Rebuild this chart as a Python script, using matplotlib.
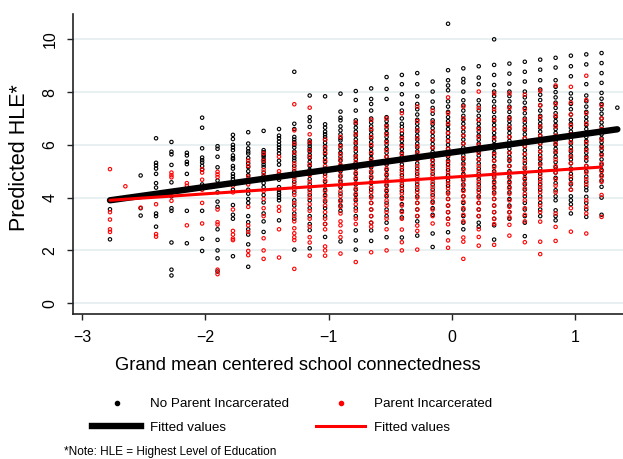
import matplotlib
matplotlib.use("Agg")
import matplotlib.pyplot as plt
from matplotlib.lines import Line2D

plt.rcParams['font.family'] = ['Liberation Sans', 'DejaVu Sans']

# school connectedness values (one column of points each)
col_x = [-2.774, -2.649, -2.525, -2.400, -2.275, -2.150, -2.026, -1.901,
         -1.776, -1.652, -1.527, -1.402, -1.278, -1.153, -1.028, -0.903,
         -0.779, -0.654, -0.529, -0.405, -0.280, -0.155, -0.030, 0.094,
         0.219, 0.344, 0.468, 0.593, 0.718, 0.843, 0.967, 1.092, 1.216, 1.344]

# predicted HLE, no parent incarcerated (one list per column)
no_inc_y = [
    [3.90, 3.56, 2.42],
    [],
    [4.84, 3.60, 3.32],
    [6.25, 5.32, 5.22, 5.10, 4.90, 4.55, 4.38, 3.40, 3.30, 2.90],
    [6.11, 5.74, 5.64, 5.24, 4.58, 4.05, 3.60, 3.50, 2.30, 1.27, 1.05],
    [5.70, 5.60, 5.36, 5.27, 4.90, 3.50, 2.27],
    [7.03, 6.65, 5.87, 5.52, 5.42, 5.33, 5.20, 5.06, 4.50, 3.50, 2.44, 1.98],
    [5.95, 5.85, 5.55, 5.15, 4.65, 4.20, 3.85, 3.65, 2.80, 2.40, 2.00, 1.70, 1.20],
    [6.38, 6.22, 6.00, 5.90, 5.80, 5.60, 5.50, 5.45, 5.20, 5.10, 4.90, 4.80, 4.70,
     4.30, 3.72, 3.35, 3.20, 1.78],
    [6.48, 6.05, 5.87, 5.75, 5.67, 5.50, 5.30, 5.16, 5.00, 4.85, 4.30, 4.15, 3.95,
     3.80, 3.30, 3.07, 2.80, 2.60, 2.23, 1.38],
    [6.53, 5.80, 5.72, 5.62, 5.55, 5.45, 5.35, 5.25, 5.16, 4.95, 4.80, 4.55, 4.40,
     4.10, 3.82, 3.40, 3.10, 2.70],
    [6.60, 6.35, 6.25, 6.12, 6.00, 5.90, 5.80, 5.67, 5.40, 5.25, 4.68, 4.40, 4.30,
     4.20, 4.10, 4.00, 3.90, 3.14],
    [8.77, 6.80, 6.60, 6.30, 6.20, 6.10, 6.00, 5.90, 5.75, 5.60, 5.50, 5.40, 5.20,
     5.00, 4.80, 4.60, 4.40, 4.20, 3.90, 3.70, 3.40, 3.20, 2.03],
    [7.87, 7.05, 6.90, 6.68, 6.17, 6.05, 5.95, 5.85, 5.75, 5.62, 5.50, 5.35, 5.20,
     5.05, 4.90, 4.70, 4.50, 4.30, 4.10, 3.90, 3.60, 3.30, 3.00, 2.77, 2.08],
    [7.84, 6.78, 6.65, 6.50, 6.40, 6.30, 6.20, 6.08, 5.95, 5.80, 5.65, 5.50, 5.35,
     5.10, 4.90, 4.60, 4.30, 4.10, 3.85, 3.60, 3.30, 3.00, 2.51],
    [7.94, 7.26, 7.03, 6.93, 6.70, 6.55, 6.40, 6.25, 6.17, 6.00, 5.85, 5.70, 5.55,
     5.40, 5.20, 5.00, 4.80, 4.60, 4.40, 4.15, 3.90, 3.70, 3.50, 2.34],
    [8.04, 7.70, 7.30, 6.93, 6.80, 6.65, 6.50, 6.35, 6.20, 6.05, 5.90, 5.75, 5.60,
     5.45, 5.30, 5.10, 4.90, 4.70, 4.50, 4.30, 4.10, 3.90, 3.60, 3.30, 2.76, 2.38, 2.03],
    [8.14, 7.74, 7.55, 7.30, 7.00, 6.85, 6.70, 6.55, 6.40, 6.25, 6.10, 5.95, 5.80,
     5.65, 5.50, 5.35, 5.15, 4.95, 4.75, 4.55, 4.30, 4.05, 3.80, 3.55, 3.30, 3.05,
     2.76, 2.36],
    [8.57, 8.12, 7.74, 7.05, 6.90, 6.75, 6.60, 6.45, 6.30, 6.15, 6.00, 5.85, 5.70,
     5.55, 5.40, 5.25, 5.05, 4.85, 4.65, 4.45, 4.25, 4.05, 3.80, 3.55, 3.30, 3.05, 2.50],
    [8.65, 8.30, 7.92, 7.56, 7.30, 7.00, 6.80, 6.68, 6.43, 6.30, 6.15, 6.00, 5.85,
     5.70, 5.55, 5.40, 5.25, 5.05, 4.85, 4.65, 4.45, 4.25, 4.00, 3.75, 3.50, 3.25, 2.49],
    [8.72, 8.30, 7.84, 7.55, 7.35, 7.15, 6.95, 6.80, 6.65, 6.50, 6.35, 6.20, 6.05,
     5.90, 5.75, 5.60, 5.45, 5.30, 5.10, 4.90, 4.70, 4.50, 4.30, 4.05, 3.80, 3.55,
     3.30, 3.10, 2.56],
    [8.40, 8.02, 7.64, 7.40, 7.18, 6.93, 6.78, 6.63, 6.48, 6.33, 6.18, 6.03, 5.88,
     5.73, 5.58, 5.43, 5.28, 5.10, 4.90, 4.70, 4.50, 4.30, 4.10, 3.85, 3.60, 3.35,
     2.64, 2.13],
    [10.59, 8.83, 8.45, 8.25, 8.07, 7.65, 7.45, 7.25, 7.05, 6.90, 6.75, 6.60, 6.45,
     6.30, 6.15, 6.00, 5.85, 5.70, 5.55, 5.40, 5.25, 5.05, 4.85, 4.65, 4.45, 4.20,
     3.95, 3.70, 3.45, 3.20, 2.69],
    [8.90, 8.50, 8.37, 8.02, 7.69, 7.50, 7.30, 7.10, 6.95, 6.80, 6.65, 6.50, 6.35,
     6.20, 6.05, 5.90, 5.75, 5.60, 5.45, 5.30, 5.10, 4.90, 4.70, 4.50, 4.30, 4.05,
     3.80, 3.55, 3.30, 3.05, 2.80],
    [8.98, 8.55, 8.30, 7.69, 7.50, 7.30, 7.10, 6.95, 6.80, 6.65, 6.50, 6.35, 6.20,
     6.05, 5.90, 5.75, 5.60, 5.45, 5.30, 5.10, 4.90, 4.70, 4.50, 4.30, 4.05, 3.80,
     3.55, 3.30, 3.05, 2.90],
    [10.00, 9.03, 8.65, 8.27, 8.02, 7.85, 7.65, 7.45, 7.25, 7.05, 6.90, 6.75, 6.60,
     6.45, 6.30, 6.15, 6.00, 5.85, 5.70, 5.55, 5.40, 5.20, 5.00, 4.80, 4.60, 4.40,
     4.20, 3.95, 3.70, 3.45, 3.20, 2.95, 2.41],
    [9.08, 8.70, 8.32, 8.02, 7.85, 7.65, 7.45, 7.25, 7.05, 6.90, 6.75, 6.60, 6.45,
     6.30, 6.15, 6.00, 5.85, 5.70, 5.55, 5.40, 5.20, 5.00, 4.80, 4.60, 4.40, 4.20,
     3.95, 3.70, 3.45, 3.20],
    [9.15, 8.77, 8.40, 8.02, 7.80, 7.60, 7.40, 7.20, 7.00, 6.85, 6.70, 6.55, 6.40,
     6.25, 6.10, 5.95, 5.80, 5.65, 5.50, 5.30, 5.10, 4.90, 4.70, 4.50, 4.30, 4.05,
     3.80, 3.55, 3.30, 3.05, 2.54],
    [9.23, 8.85, 8.45, 8.10, 7.90, 7.70, 7.50, 7.30, 7.10, 6.95, 6.80, 6.65, 6.50,
     6.35, 6.20, 6.05, 5.90, 5.75, 5.60, 5.45, 5.30, 5.10, 4.90, 4.70, 4.50, 4.30,
     4.05, 3.80, 3.55, 3.30],
    [9.30, 8.93, 8.45, 8.20, 8.00, 7.80, 7.60, 7.40, 7.20, 7.05, 6.90, 6.75, 6.60,
     6.45, 6.30, 6.15, 6.00, 5.85, 5.70, 5.55, 5.35, 5.15, 4.95, 4.75, 4.55, 4.28,
     4.05, 3.90, 3.52, 3.30, 3.14],
    [9.38, 8.98, 8.60, 7.95, 7.75, 7.55, 7.35, 7.15, 6.95, 6.80, 6.65, 6.50, 6.35,
     6.20, 6.05, 5.90, 5.75, 5.60, 5.45, 5.30, 5.10, 4.90, 4.70, 4.50, 4.30, 4.05,
     3.90, 3.75, 3.40],
    [9.43, 9.05, 8.30, 7.87, 7.65, 7.45, 7.25, 7.05, 6.90, 6.75, 6.60, 6.45, 6.30,
     6.15, 6.00, 5.85, 5.70, 5.55, 5.40, 5.20, 5.00, 4.80, 4.60, 4.40, 4.28, 4.03,
     3.80, 3.55, 3.27],
    [9.48, 9.10, 8.72, 8.35, 7.97, 7.75, 7.55, 7.35, 7.18, 7.00, 6.85, 6.70, 6.55,
     6.40, 6.25, 6.10, 5.95, 5.80, 5.65, 5.45, 5.25, 5.05, 4.85, 4.65, 4.41, 4.00, 3.35],
    [7.41],
]

# predicted HLE, parent incarcerated
inc_y = [
    [5.08, 3.88, 3.45, 3.17, 2.80, 2.70],
    [4.43],
    [3.62],
    [3.75, 2.62, 2.52],
    [4.95, 4.85, 4.77, 3.88],
    [4.55, 4.45, 2.95],
    [5.08, 4.95, 4.68, 4.30, 3.80, 3.02],
    [4.98, 4.88, 4.78, 4.50, 3.55, 3.07, 2.98, 1.27, 1.10],
    [4.45, 4.20, 3.55, 2.74, 2.60, 2.45, 2.39],
    [5.40, 5.20, 4.80, 4.50, 3.65, 2.95, 2.70, 1.98, 1.82],
    [5.68, 5.40, 5.05, 4.85, 4.70, 4.25, 3.95, 3.60, 3.30, 2.46, 2.00, 1.68],
    [5.55, 5.00, 4.90, 4.75, 3.65, 3.50, 2.80, 1.73],
    [7.54, 6.55, 6.05, 5.70, 5.30, 5.10, 4.90, 4.70, 4.50, 4.30, 4.10, 3.80, 3.55,
     3.30, 3.10, 2.84, 2.65, 2.50, 2.39, 1.30],
    [7.41, 6.40, 6.10, 5.80, 5.55, 5.25, 5.00, 4.85, 4.60, 4.40, 4.20, 4.00, 3.75,
     3.50, 3.20, 2.90, 2.50, 2.30, 1.80],
    [6.20, 5.90, 5.70, 5.40, 5.20, 5.00, 4.80, 4.65, 4.45, 4.25, 4.05, 3.90, 3.70,
     3.45, 3.20, 3.00, 2.80, 2.15, 2.00, 1.80],
    [6.30, 5.95, 5.65, 5.45, 5.25, 5.05, 4.85, 4.65, 4.45, 4.25, 4.05, 3.85, 3.65,
     3.40, 3.10, 2.95, 2.70, 2.50, 1.88],
    [6.85, 6.40, 6.10, 5.85, 5.55, 5.35, 5.15, 4.95, 4.75, 4.55, 4.35, 4.15, 3.95,
     3.75, 3.50, 3.20, 3.00, 1.56],
    [6.95, 6.60, 6.30, 6.00, 5.70, 5.45, 5.20, 5.00, 4.80, 4.60, 4.40, 4.20, 4.00,
     3.80, 3.55, 3.30, 3.05, 2.90, 1.93],
    [7.00, 6.70, 6.40, 6.10, 5.80, 5.55, 5.30, 5.10, 4.90, 4.70, 4.50, 4.30, 4.10,
     3.90, 3.70, 3.45, 3.20, 2.80, 2.00],
    [7.20, 6.55, 6.25, 5.95, 5.65, 5.40, 5.15, 4.95, 4.75, 4.55, 4.35, 4.15, 3.95,
     3.70, 3.45, 3.20, 2.79, 2.31, 2.00],
    [7.45, 6.90, 6.55, 6.25, 5.95, 5.70, 5.45, 5.20, 5.00, 4.80, 4.60, 4.40, 4.20,
     4.00, 3.80, 3.55, 3.30, 2.94, 2.74, 2.03],
    [7.30, 6.85, 6.50, 6.20, 5.90, 5.65, 5.40, 5.20, 5.00, 4.80, 4.60, 4.40, 4.20,
     4.00, 3.80, 3.55, 3.30, 3.02],
    [7.80, 7.20, 6.80, 6.45, 6.15, 5.85, 5.60, 5.35, 5.15, 4.95, 4.75, 4.55, 4.35,
     4.15, 3.95, 3.70, 3.45, 3.20, 2.99, 2.38, 2.10],
    [7.45, 7.00, 6.65, 6.35, 6.05, 5.75, 5.50, 5.25, 5.05, 4.85, 4.65, 4.45, 4.25,
     4.05, 3.85, 3.60, 3.35, 3.10, 2.49, 2.33, 1.68],
    [8.02, 7.40, 6.95, 6.60, 6.30, 6.00, 5.70, 5.45, 5.20, 5.00, 4.80, 4.60, 4.40,
     4.20, 4.00, 3.80, 3.55, 3.30, 2.80, 2.51, 2.18],
    [7.95, 7.35, 6.95, 6.60, 6.25, 5.95, 5.65, 5.40, 5.15, 4.95, 4.75, 4.55, 4.35,
     4.15, 3.95, 3.70, 3.45, 3.20, 3.00, 2.21],
    [7.95, 7.40, 7.00, 6.65, 6.30, 6.00, 5.70, 5.45, 5.20, 4.95, 4.75, 4.55, 4.35,
     4.15, 3.90, 3.65, 3.45, 3.25, 2.97, 2.56],
    [7.90, 7.35, 6.95, 6.60, 6.25, 5.95, 5.65, 5.40, 5.15, 4.95, 4.75, 4.55, 4.35,
     4.15, 3.90, 3.60, 3.35, 3.10, 2.31],
    [8.05, 7.50, 7.05, 6.70, 6.35, 6.05, 5.75, 5.50, 5.25, 5.00, 4.80, 4.60, 4.40,
     4.20, 3.95, 3.70, 3.45, 3.09, 2.33, 1.86],
    [8.25, 7.55, 7.10, 6.70, 6.35, 6.05, 5.75, 5.45, 5.20, 4.95, 4.70, 4.45, 4.20,
     3.40, 2.89, 2.36],
    [8.20, 7.60, 7.15, 6.75, 6.40, 6.10, 5.80, 5.55, 5.30, 5.05, 4.80, 4.55, 4.30,
     3.60, 2.71],
    [8.62, 7.70, 7.20, 6.80, 6.45, 6.10, 5.80, 5.50, 5.20, 4.95, 4.70, 4.50, 3.90,
     3.65, 3.40, 2.64],
    [7.50, 7.00, 6.60, 6.20, 5.90, 5.60, 5.30, 5.00, 4.80, 4.60, 4.10, 3.27],
    [],
]

# fitted lines (end points)
fit_no_inc_x = [-2.774, 1.344]
fit_no_inc_y = [3.90, 6.59]
fit_inc_x = [-2.774, 1.216]
fit_inc_y = [3.90, 5.16]

y_ticks = [0, 2, 4, 6, 8, 10]
x_ticks = [-3, -2, -1, 0, 1]


def flatten(cols, ys):
    px, py = [], []
    for x, col in zip(cols, ys):
        for y in col:
            px.append(x)
            py.append(y)
    return px, py


fig = plt.figure(figsize=(6.23, 4.59), dpi=100)
ax = fig.add_axes([0.1172, 0.3159, 0.8828, 0.6536])

bx, by = flatten(col_x, no_inc_y)
rx, ry = flatten(col_x, inc_y)
ax.scatter(bx, by, s=6, facecolors='none', edgecolors='black', linewidths=0.8, zorder=3)
ax.scatter(rx, ry, s=6, facecolors='none', edgecolors='red', linewidths=0.8, zorder=3)
ax.plot(fit_no_inc_x, fit_no_inc_y, color='black', lw=4.6, solid_capstyle='round', zorder=4)
ax.plot(fit_inc_x, fit_inc_y, color='red', lw=2.2, solid_capstyle='round', zorder=5)

ax.set_xlim(-3.074, 1.39)
ax.set_ylim(-0.41, 10.96)
ax.set_yticks(y_ticks)
ax.set_xticks(x_ticks)
ax.set_xticklabels(['\u22123', '\u22122', '\u22121', '0', '1'])
ax.grid(axis='y', color='#e6eff0', lw=1.3, zorder=0)
ax.set_axisbelow(True)
for side in ['top', 'right']:
    ax.spines[side].set_visible(False)
for side in ['left', 'bottom']:
    ax.spines[side].set_linewidth(1.2)
    ax.spines[side].set_color('#222222')
ax.tick_params(axis='both', direction='out', length=4.3, width=1.0, color='#222222',
               labelsize=11.5)
ax.tick_params(axis='x', pad=7)
ax.tick_params(axis='y', pad=7)
for lbl in ax.get_yticklabels():
    lbl.set_rotation(90)
    lbl.set_va('center')

fig.text(0.032, 0.656, 'Predicted HLE*', rotation=90, ha='center', va='center', fontsize=15.5)
fig.text(298 / 623, 0.203, 'Grand mean centered school connectedness',
         ha='center', va='center', fontsize=13.2)

handles = [
    Line2D([], [], marker='o', ls='', ms=3, color='black'),
    Line2D([], [], color='black', lw=4.6),
    Line2D([], [], marker='o', ls='', ms=3, color='red'),
    Line2D([], [], color='red', lw=2.2),
]
labels = ['No Parent Incarcerated', 'Fitted values', 'Parent Incarcerated', 'Fitted values']
fig.legend(handles, labels, loc='upper left', bbox_to_anchor=(92 / 623, 0.133),
           ncol=2, frameon=False, fontsize=9.6, borderpad=0, borderaxespad=0,
           handlelength=3.7, handletextpad=0.68, columnspacing=2.0, labelspacing=0.85)

fig.text(64 / 623, 0.0153, '*Note: HLE = Highest Level of Education',
         ha='left', va='center', fontsize=8.5)

fig.savefig('out.png', dpi=100)
